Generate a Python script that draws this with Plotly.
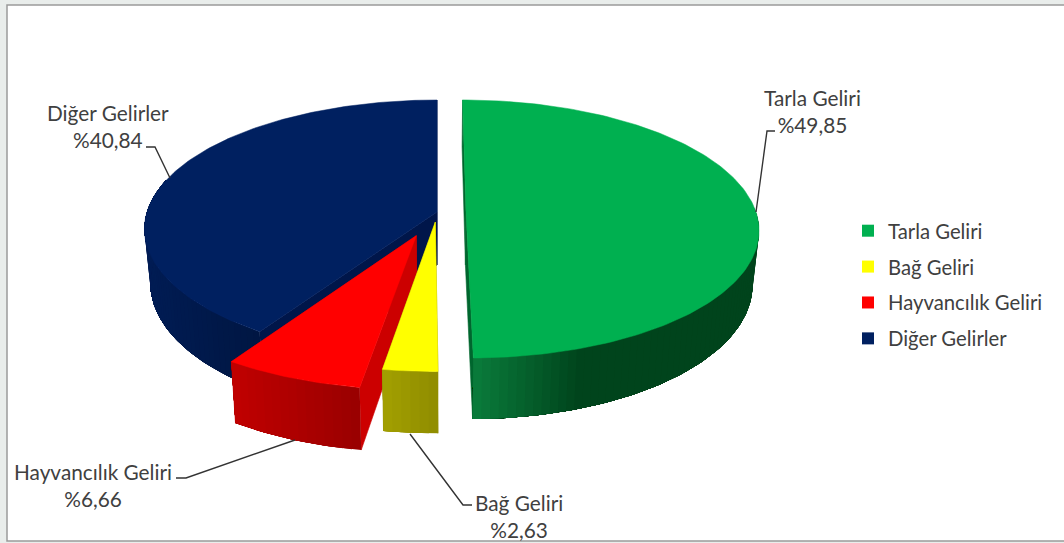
import math
import plotly.graph_objects as go

categories = ["Tarla Geliri", "Bağ Geliri", "Hayvancılık Geliri", "Diğer Gelirler"]
values = [49.85, 2.63, 6.66, 40.84]

# styling, one entry per slice
top_colors = ["#00B050", "#FFFF00", "#FF0000", "#002060"]
cut_colors = ["#00662e", "#8f8c00", "#cc0000", "#00164a"]
wall_left = [(10, 125, 60), (163, 160, 0), (192, 0, 0), (0, 28, 84)]
wall_right = [(0, 68, 28), (143, 140, 0), (153, 0, 0), (0, 22, 66)]
explode = [0.10, 0.079, 0.195, 0.0]

# perspective camera of the 3-D pie, in screen pixels
X0, Y0, DIST, FX, FY, DEPTH, SHRINK = 437, 212, 7.58, 2198, 961, 53, 0.02
STEP = 1.5


def project(u, v, low=False):
    d = DIST + v
    x = FX * u / d
    y = Y0 - FY * v / d
    if low:
        x *= 1 - SHRINK
        y += DEPTH * DIST / d
    return X0 + x, y


def rim(start, end, e, mid, low=False):
    n = max(2, int((end - start) / 1.0))
    pts = []
    for i in range(n + 1):
        a = math.radians(start + (end - start) * i / n)
        pts.append(project(math.sin(a) + e * math.sin(mid), math.cos(a) + e * math.cos(mid), low))
    return pts


def poly(fig, pts, color, line=0.6):
    xs = [p[0] for p in pts] + [pts[0][0]]
    ys = [p[1] for p in pts] + [pts[0][1]]
    fig.add_trace(go.Scatter(x=xs, y=ys, mode="lines", fill="toself", fillcolor=color,
                             line=dict(color=color, width=line), showlegend=False,
                             hoverinfo="skip"))


total = sum(values)
spans = []
acc = 0.0
for v in values:
    spans.append((acc / total * 360, (acc + v) / total * 360))
    acc += v

fig = go.Figure()


def draw_slice(i):
    start, end = spans[i]
    e = explode[i]
    mid = math.radians((start + end) / 2)
    ou, ov = e * math.sin(mid), e * math.cos(mid)
    apex_t, apex_b = project(ou, ov), project(ou, ov, True)
    # flat cut faces
    for ang in (start, end):
        a = math.radians(ang)
        p_t = project(math.sin(a) + ou, math.cos(a) + ov)
        p_b = project(math.sin(a) + ou, math.cos(a) + ov, True)
        poly(fig, [apex_t, p_t, p_b, apex_b], cut_colors[i])
    # curved outer wall, shaded along the arc; painted from the far end so no seams show
    a0 = max(start, 88)
    a1 = min(end, 285)
    n = max(1, int((a1 - a0) / STEP))
    wall_xs = [p[0] for p in rim(a0, a1, e, mid)]
    lo, hi = min(wall_xs), max(wall_xs)
    for k in range(n):
        s = a0 + (a1 - a0) * k / n
        t = a0 + (a1 - a0) * (k + 1) / n
        cx = (project(math.sin(math.radians(s)) + ou, math.cos(math.radians(s)) + ov)[0]
              + project(math.sin(math.radians(t)) + ou, math.cos(math.radians(t)) + ov)[0]) / 2
        if i == 0:   # green: light at the cut, dark from about x=580 on
            f = 1 - min(1.0, max(0.0, (cx - 472) / 108))
        else:
            f = 1 - (cx - lo) / max(1, hi - lo)
        c = [round(wall_left[i][j] * f + wall_right[i][j] * (1 - f)) for j in range(3)]
        # each piece runs on to the end of the wall and is overpainted by the next one
        q = rim(s, a1, e, mid) + rim(s, a1, e, mid, True)[::-1]
        poly(fig, q, "rgb(%d,%d,%d)" % tuple(c), 0)
    # top face
    poly(fig, [apex_t] + rim(start, end, e, mid), top_colors[i], 0.5)


for i in (3, 2, 1, 0):
    draw_slice(i)

# leader lines
leaders = [
    ([756, 767, 775], [212, 131, 131]),
    ([410, 463, 472], [434, 505, 505]),
    ([295, 186, 176], [440, 478, 478]),
    ([170, 155, 146], [178, 147, 147]),
]
for lx, ly in leaders:
    fig.add_trace(go.Scatter(x=lx, y=ly, mode="lines", line=dict(color="#333333", width=1.4),
                             showlegend=False, hoverinfo="skip"))

# data labels
label_pos = [(812, 111), (519, 516), (93, 485), (108, 126)]
FONT = "Lato, 'Open Sans', sans-serif"
annotations = []
for c, v, (lx, ly) in zip(categories, values, label_pos):
    txt = "%s<br>%%%s" % (c, ("%.2f" % v).replace(".", ","))
    annotations.append(dict(x=lx, y=ly, xref="x", yref="y", text=txt, showarrow=False,
                            align="center", font=dict(family=FONT, size=20.8, color="#404040")))

# legend entries
for c, col in zip(categories, top_colors):
    fig.add_trace(go.Scatter(x=[None], y=[None], mode="markers", name=c, legendgroup=c,
                             marker=dict(symbol="square", size=12, color=col)))

fig.update_layout(
    width=1064, height=543, autosize=False,
    margin=dict(l=0, r=0, t=0, b=0),
    paper_bgcolor="#e9edeb", plot_bgcolor="#e9edeb",
    xaxis=dict(range=[0, 1064], visible=False, fixedrange=True),
    yaxis=dict(range=[543, 0], visible=False, fixedrange=True),
    annotations=annotations,
    shapes=[dict(type="rect", xref="x", yref="y", x0=7, y0=5, x1=1075, y1=541, layer="below",
                 fillcolor="#ffffff", line=dict(color="#9a9a9a", width=1.5))],
    legend=dict(x=848 / 1064, y=1 - 211 / 543, xanchor="left", yanchor="top",
                bgcolor="rgba(0,0,0,0)", tracegroupgap=6.5,
                font=dict(family=FONT, size=20.3, color="#404040")),
    showlegend=True,
)

fig.write_html("out.html", config={"displayModeBar": False}, default_width="1064px", default_height="543px",
               post_script="document.body.style.margin='0';document.body.style.overflow='hidden';")
